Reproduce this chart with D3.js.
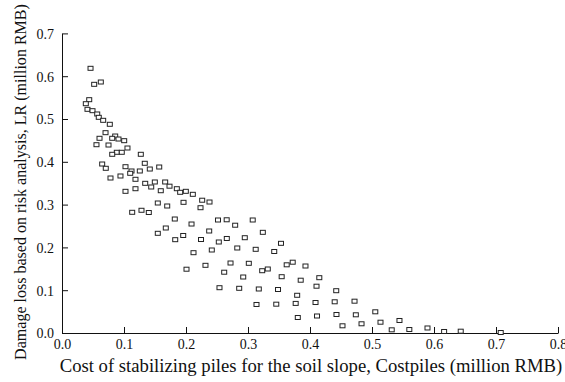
<!DOCTYPE html>
<html>
<head>
<meta charset="utf-8">
<script src="https://cdn.jsdelivr.net/npm/d3@7"></script>
<style>
  html, body { margin: 0; padding: 0; background: #fff; }
  svg { display: block; font-family: "Liberation Serif", "Times New Roman", serif; }
</style>
</head>
<body>
<svg id="chart" width="565" height="382"></svg>
<script>
// ---- data ----
const costPiles = [
  0.0452, 0.0511, 0.0618, 0.0431, 0.0376, 0.0403, 0.0484, 0.0560, 0.0585, 0.0656,
  0.0763, 0.0694, 0.0597, 0.0850, 0.0802, 0.0903, 0.0995, 0.0548, 0.0742, 0.1048,
  0.0876, 0.0802, 0.0956, 0.1263, 0.0640, 0.0698, 0.1016, 0.1327, 0.1113, 0.1092,
  0.1247, 0.1408, 0.1560, 0.0774, 0.0935, 0.1177, 0.1334, 0.1431, 0.1489, 0.1585,
  0.1656, 0.1726, 0.1016, 0.1177, 0.1844, 0.1898, 0.1989, 0.2102, 0.1537, 0.1689,
  0.1952, 0.2253, 0.2371, 0.2226, 0.1124, 0.1274, 0.1392, 0.1811, 0.2508, 0.2648,
  0.2785, 0.2081, 0.1666, 0.1537, 0.2366, 0.1947, 0.1818, 0.2234, 0.2650, 0.2521,
  0.2819, 0.2408, 0.2113, 0.2710, 0.2306, 0.2000, 0.2608, 0.3068, 0.3231, 0.2940,
  0.3524, 0.3116, 0.3415, 0.3005, 0.3221, 0.3311, 0.3616, 0.3713, 0.3919, 0.2915,
  0.3535, 0.3842, 0.4142, 0.2532, 0.2850, 0.3166, 0.3476, 0.3785, 0.4097, 0.4415,
  0.3129, 0.3448, 0.3761, 0.4081, 0.4390, 0.4710, 0.3795, 0.4105, 0.4419, 0.4731,
  0.5045, 0.4516, 0.4823, 0.5129, 0.5435, 0.5310, 0.5594, 0.5887, 0.6155, 0.6423,
  0.7068
];
const damageLoss = [
  0.6196, 0.5822, 0.5876, 0.5463, 0.5369, 0.5238, 0.5206, 0.5129, 0.5051, 0.4981,
  0.4888, 0.4692, 0.4561, 0.4614, 0.4561, 0.4544, 0.4505, 0.4411, 0.4404, 0.4334,
  0.4234, 0.4187, 0.4234, 0.4187, 0.3960, 0.3860, 0.3897, 0.3977, 0.3797, 0.3743,
  0.3797, 0.3843, 0.3890, 0.3633, 0.3680, 0.3603, 0.3509, 0.3423, 0.3540, 0.3336,
  0.3540, 0.3442, 0.3322, 0.3383, 0.3383, 0.3299, 0.3322, 0.3252, 0.3049, 0.2979,
  0.3065, 0.3114, 0.3072, 0.2939, 0.2832, 0.2879, 0.2827, 0.2675, 0.2652, 0.2657,
  0.2530, 0.2558, 0.2465, 0.2341, 0.2395, 0.2290, 0.2192, 0.2196, 0.2220, 0.2138,
  0.1998, 0.1951, 0.1888, 0.1647, 0.1593, 0.1502, 0.1432, 0.2652, 0.2364, 0.2238,
  0.2107, 0.1967, 0.1916, 0.1640, 0.1467, 0.1507, 0.1605, 0.1666, 0.1577, 0.1320,
  0.1327, 0.1245, 0.1304, 0.1070, 0.1056, 0.1040, 0.1028, 0.0893, 0.1105, 0.1000,
  0.0678, 0.0685, 0.0703, 0.0724, 0.0741, 0.0755, 0.0374, 0.0409, 0.0444, 0.0437,
  0.0507, 0.0180, 0.0227, 0.0264, 0.0304, 0.0086, 0.0093, 0.0129, 0.0047, 0.0054,
  0.0023
];
const xTicks = [0, 0.1, 0.2, 0.3, 0.4, 0.5, 0.6, 0.7, 0.8];
const yTicks = [0, 0.1, 0.2, 0.3, 0.4, 0.5, 0.6, 0.7];
const xTitle = "Cost of stabilizing piles for the soil slope, Costpiles (million RMB)";
const yTitle = "Damage loss based on risk analysis, LR (million RMB)";

// ---- drawing ----
const svg = d3.select("#chart");
const x = d3.scaleLinear().domain([0, 0.8]).range([62, 558]);
const y = d3.scaleLinear().domain([0, 0.7]).range([333, 33.4]);
const fmt = d3.format(".1f");

const xAxis = svg.append("g")
  .attr("transform", "translate(0,333)")
  .call(d3.axisBottom(x).tickValues(xTicks).tickFormat(fmt)
    .tickSizeInner(-6).tickSizeOuter(0).tickPadding(6));
const yAxis = svg.append("g")
  .attr("transform", "translate(62,0)")
  .call(d3.axisLeft(y).tickValues(yTicks).tickFormat(fmt)
    .tickSizeInner(-6).tickSizeOuter(0).tickPadding(8));

[xAxis, yAxis].forEach(g => {
  g.attr("font-size", null).attr("font-family", null);
  g.selectAll("text").attr("font-family", "Liberation Serif, serif")
    .attr("font-size", 14).attr("fill", "#111");
  g.selectAll("path, line").attr("stroke", "#111").attr("stroke-width", 1);
});
yAxis.selectAll("text").attr("dy", "0.35em");

const pts = costPiles.map((c, i) => ({ c, l: damageLoss[i] }));
svg.append("g").selectAll("rect").data(pts).join("rect")
  .attr("x", d => x(d.c) + 0.5 - 2.5)
  .attr("y", d => y(d.l) + 0.5 - 2)
  .attr("width", 5).attr("height", 4)
  .attr("fill", "#fff").attr("stroke", "#222").attr("stroke-width", 1);

// titles
const xt = svg.append("text").text(xTitle)
  .attr("x", 311).attr("y", 371.5)
  .attr("text-anchor", "middle").attr("font-size", 14).attr("fill", "#111");
const wx = xt.node().getComputedTextLength();
xt.attr("font-size", 14 * 503 / wx);

const yt = svg.append("text").text(yTitle)
  .attr("transform", "translate(26,182) rotate(-90)")
  .attr("text-anchor", "middle").attr("font-size", 14).attr("fill", "#111");
const wy = yt.node().getComputedTextLength();
yt.attr("font-size", 14 * 356 / wy);
</script>
</body>
</html>
